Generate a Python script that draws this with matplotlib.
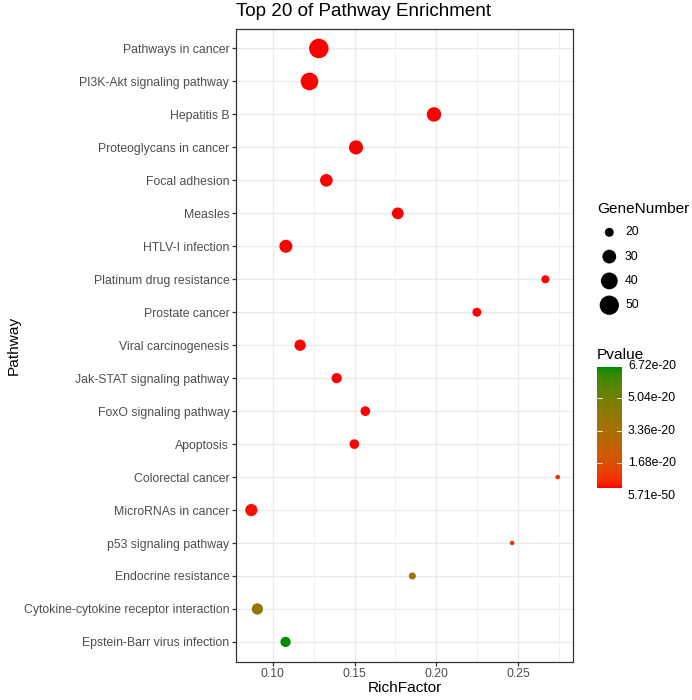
import numpy as np
import matplotlib
matplotlib.use("Agg")
import matplotlib.pyplot as plt
from matplotlib.colors import ListedColormap

plt.rcParams['font.family'] = ['Liberation Sans', 'DejaVu Sans']

# ---------------- data ----------------
pathways = [
    "Pathways in cancer", "PI3K-Akt signaling pathway", "Hepatitis B",
    "Proteoglycans in cancer", "Focal adhesion", "Measles", "HTLV-I infection",
    "Platinum drug resistance", "Prostate cancer", "Viral carcinogenesis",
    "Jak-STAT signaling pathway", "FoxO signaling pathway", "Apoptosis",
    "Colorectal cancer", "MicroRNAs in cancer", "p53 signaling pathway",
    "Endocrine resistance", "Cytokine-cytokine receptor interaction",
    "Epstein-Barr virus infection",
]
rich_factor = [0.1282, 0.1225, 0.1985, 0.1509, 0.1328, 0.1764, 0.1081,
               0.2665, 0.2247, 0.1168, 0.1391, 0.1566, 0.1499, 0.2740,
               0.0870, 0.2462, 0.1853, 0.0907, 0.1079]
gene_number = [51, 43, 32, 31, 27, 25, 28, 19, 20, 24, 22, 21, 21, 17,
               26, 17, 18, 24, 22]
pvalue = [5.71e-50, 3.2e-42, 1.5e-38, 2.1e-35, 8.4e-30, 4.6e-31, 2.3e-27,
          1.1e-26, 5.2e-28, 7.7e-25, 3.1e-24, 1.9e-23, 6.0e-23, 3.5e-21,
          9.1e-22, 6.0e-21, 3.85e-20, 3.95e-20, 6.72e-20]
size_breaks = [20, 30, 40, 50]
x_ticks = [0.10, 0.15, 0.20, 0.25]
x_minor = [0.125, 0.175, 0.225, 0.275]

# ---------------- colour scale (Lab interpolation like ggplot) ----------------
M = np.array([[0.4124, 0.3576, 0.1805], [0.2126, 0.7152, 0.0722], [0.0193, 0.1192, 0.9505]])
WHITE = np.array([0.95047, 1.0, 1.08883])

def hex2rgb(h):
    h = h.lstrip('#')
    return np.array([int(h[i:i + 2], 16) / 255 for i in (0, 2, 4)])

def rgb2lab(c):
    lin = np.where(c <= 0.04045, c / 12.92, ((c + 0.055) / 1.055) ** 2.4)
    xyz = M @ lin / WHITE
    f = np.where(xyz > (6 / 29) ** 3, np.cbrt(xyz), xyz / (3 * (6 / 29) ** 2) + 4 / 29)
    return np.array([116 * f[1] - 16, 500 * (f[0] - f[1]), 200 * (f[1] - f[2])])

def lab2rgb(lab):
    L, a, b = lab
    fy = (L + 16) / 116
    fx = fy + a / 500
    fz = fy - b / 200
    f = np.array([fx, fy, fz])
    xyz = np.where(f > 6 / 29, f ** 3, 3 * (6 / 29) ** 2 * (f - 4 / 29)) * WHITE
    lin = np.linalg.solve(M, xyz)
    lin = np.clip(lin, 0, 1)
    c = np.where(lin <= 0.0031308, 12.92 * lin, 1.055 * lin ** (1 / 2.4) - 0.055)
    return np.clip(c, 0, 1)

low_lab = rgb2lab(hex2rgb('#FF0000'))
high_lab = rgb2lab(hex2rgb('#008B00'))
cmap = ListedColormap([lab2rgb(low_lab + (high_lab - low_lab) * t) for t in np.linspace(0, 1, 256)])

pmin, pmax = min(pvalue), max(pvalue)
norm = plt.Normalize(pmin, pmax)

gmin, gmax = min(gene_number), max(gene_number)
DPI = 100

def size_of(n):
    d_px = 4.5 + 15.0 * np.sqrt((np.asarray(n, float) - gmin) / (gmax - gmin))
    d_pt = d_px * 72 / DPI
    return d_pt ** 2

TICK_FS = 8.8
TITLE_FS = 11.1

# ---------------- figure ----------------
W, H = 692, 700
fig = plt.figure(figsize=(W / DPI, H / DPI), dpi=DPI, facecolor='white')
pl, pr, pt_, pb = 236, 573, 28.7, 661.7
ax = fig.add_axes([pl / W, 1 - pb / H, (pr - pl) / W, (pb - pt_) / H])

ypos = np.arange(len(pathways))
ax.scatter(rich_factor, ypos, s=size_of(gene_number), c=pvalue, cmap=cmap, norm=norm,
           linewidths=0, zorder=3)

lo, hi = min(rich_factor), max(rich_factor)
pad = 0.05 * (hi - lo)
ax.set_xlim(lo - pad, hi + pad)
ax.set_ylim(len(pathways) - 1 + 0.6, -0.6)

ax.set_xticks(x_ticks)
ax.set_xticklabels([f"{v:.2f}" for v in x_ticks])
ax.set_xticks(x_minor, minor=True)
ax.set_yticks(ypos)
ax.set_yticklabels(pathways)

ax.grid(which='major', color='#EBEBEB', linewidth=1.0, zorder=0)
ax.grid(which='minor', axis='x', color='#EBEBEB', linewidth=0.5, zorder=0)
ax.set_axisbelow(True)
ax.tick_params(which='major', length=2.8, width=0.9, color='#333333',
               labelsize=TICK_FS, labelcolor='#4D4D4D', pad=2.0)
ax.tick_params(which='minor', length=0)
for s in ax.spines.values():
    s.set_color('#333333')
    s.set_linewidth(0.9)

fig.text(pl / W, 1 - 11 / H, "Top 20 of Pathway Enrichment", fontsize=13.6,
         ha='left', va='center', color='black')
fig.text(14 / W, 1 - 345 / H, "Pathway", rotation=90, fontsize=TITLE_FS,
         ha='center', va='center')
fig.text((pl + pr) / 2 / W, 1 - 688 / H, "RichFactor", fontsize=TITLE_FS,
         ha='center', va='center')

# ---------------- legends (overlay in pixel coords) ----------------
ov = fig.add_axes([0, 0, 1, 1], zorder=5)
ov.set_xlim(0, W)
ov.set_ylim(H, 0)
ov.axis('off')
ov.patch.set_alpha(0)

ov.text(597, 209, "GeneNumber", fontsize=TITLE_FS, ha='left', va='center')
key_y = [232.3, 256.6, 280.9, 305.2]
ov.scatter([609.3] * len(size_breaks), key_y, s=size_of(size_breaks), c='black', linewidths=0)
for yy, v in zip(key_y, size_breaks):
    ov.text(625, yy, str(v), fontsize=TICK_FS, ha='left', va='center')

# colour bar
bx0, bx1, by_top, by_bot = 597.3, 621.7, 366.7, 487.7
grad = np.linspace(pmin, pmax, 200).reshape(-1, 1)
ov.imshow(grad, cmap=cmap, norm=norm, extent=[bx0, bx1, by_bot, by_top],
          origin='lower', aspect='auto', interpolation='bilinear')
ov.set_xlim(0, W)
ov.set_ylim(H, 0)
ov.text(597, 355, "Pvalue", fontsize=TITLE_FS, ha='left', va='center')
cb_breaks = np.linspace(pmin, pmax, 5)
lab_top, lab_bot = 365.7, 496.0
for b in cb_breaks:
    yy = lab_bot - (b - pmin) / (pmax - pmin) * (lab_bot - lab_top)
    ov.text(628, yy, f"{b:.2e}", fontsize=TICK_FS, ha='left', va='center')
    if by_top + 2 < yy < by_bot - 2:
        ov.plot([bx0, bx0 + 4.8], [yy, yy], color='white', lw=0.6)
        ov.plot([bx1 - 4.8, bx1], [yy, yy], color='white', lw=0.6)

fig.savefig("out.png", dpi=DPI, facecolor='white')
